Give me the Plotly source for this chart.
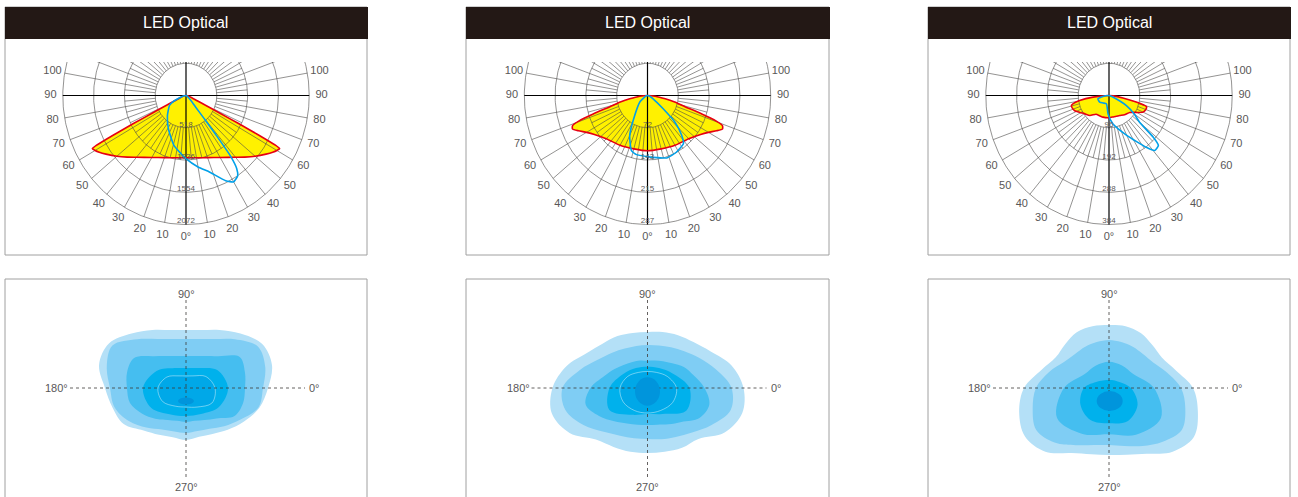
import numpy as np
import plotly.graph_objects as go

W, H = 1298, 497

HEADER = "LED Optical"
PANEL_LEFT = [5, 466, 928]
PANEL_RIGHT = [367, 829, 1290]

# ---------------- polar (photometric) data ----------------
RING_VALUES = [[518, 1036, 1554, 2072], [72, 143, 215, 287], [96, 192, 288, 384]]
ANGLE_TICKS = [0, 10, 20, 30, 40, 50, 60, 70, 80, 90, 100]

# C0-C180 plane (yellow fill, red outline); symmetric halves, degrees from nadir
P1_RED_ANG = [0, 10, 20, 30, 40, 45, 50, 55, 58, 60, 61.5, 62, 62.5, 63, 63.5, 64.5, 66, 70, 80, 90]
P1_RED_CD = [1000, 1015, 1062, 1150, 1295, 1399, 1518, 1642, 1720, 1766, 1792, 1709, 1399, 984, 622, 363, 207, 104, 31, 0]
P2_RED_ANG = [0, 15, 30, 45, 55, 60, 64, 67, 69, 70.5, 72, 74, 77, 80, 85, 90]
P2_RED_CD = [123, 123, 128, 136, 151, 164, 179, 190, 187, 169, 133, 92, 65, 42, 18, 0]
# panel 3 is slightly asymmetric: full sweep, negative = left
P3_RED_ANG = [-90, -84.5, -80.7, -78, -75.7, -71, -67, -61, -55, -45, -36, -25, -16, 0, 11, 20, 29, 40, 52, 60, 65, 70, 74, 75.5, 77, 80, 85, 90]
P3_RED_CD = [0, 50, 93, 113, 121, 120, 116, 104, 94, 84, 69, 67, 67, 66, 65, 66, 68, 75, 82, 101, 117, 122, 122, 110, 87, 44, 14, 0]

# C90-C270 plane (blue), full sweep
P1_BLUE_ANG = [-90, -80, -70, -65, -60, -44, -29, -14, 0, 10, 18, 26, 30, 34, 36, 37.5, 38.5, 39.5, 41, 45, 55, 70, 90]
P1_BLUE_CD = [0, 41, 130, 249, 321, 450, 611, 829, 1015, 1166, 1295, 1523, 1601, 1554, 1450, 1243, 829, 466, 259, 130, 41, 10, 0]
P2_BLUE_ANG = [-90, -75, -60, -51, -34, -25, -17, -11, 0, 5, 18, 28, 38, 42, 47, 51, 61, 75, 90]
P2_BLUE_CD = [0, 4, 9, 23, 53, 98, 128, 134, 136, 138, 146, 143, 136, 119, 88, 47, 15, 4, 0]
P3_BLUE_ANG = [-90, -80, -74, -56, -40, -18, -3, 8, 25, 37, 41, 46, 48, 50, 55, 61, 69, 80, 90]
P3_BLUE_CD = [0, 24, 36, 35, 29, 26, 55, 85, 131, 193, 217, 214, 185, 125, 96, 62, 13, 3, 0]

# ---------------- isolux contour data (radius at equal angle steps, from 0 deg ccw) ----------------
P1_LEVELS = [
    [82, 89, 88, 77, 67, 60, 58, 60, 67, 77, 89, 90, 81, 76, 72, 60, 54, 51, 52, 50.5, 53, 59, 67, 76],
    [77, 82, 83, 69, 56.6, 50.7, 49, 50.7, 56.6, 69, 85, 82, 76, 74, 66, 56, 48, 45, 45, 44.5, 47, 54, 63, 75],
    [59, 61, 62, 45, 37, 33, 32, 33, 37, 45, 60, 61, 59, 58, 51, 43.5, 37, 34, 34, 34, 37, 43, 56, 59],
    [42, 36, 23, 20, 23, 34, 43, 40, 30.5, 28, 30, 38],
    [29, 23, 14, 12, 14, 22, 28, 27, 21, 19, 22, 30],
]
P2_LEVELS = [
    [96, 87, 73, 65, 61, 58, 56, 57, 60, 63, 70, 84, 95, 99, 90, 73, 68, 66, 65, 66, 69, 72, 89, 98],
    [84, 71, 60, 52, 47, 44, 43, 43.5, 45.5, 50, 57, 70, 85, 85, 74, 62, 55, 52, 51, 53, 56.5, 63, 74, 86],
    [57, 48, 42, 35, 31, 28.5, 27.3, 28.5, 30, 33, 38, 45, 57, 64, 56, 47, 41, 38, 37, 38, 42, 48, 60, 64],
    [42, 29, 23, 21.3, 23, 28, 38, 44, 31, 26, 30, 45],
    [29, 23, 18, 16.5, 18, 23, 27.5, 28, 26, 25, 26, 29],
]
P3_LEVELS = [
    [84, 69, 61, 61, 63.5, 64, 63, 64, 64.5, 62, 61.5, 70, 85, 93, 97, 90, 75, 68.5, 67, 69, 76, 90, 98, 92],
    [72, 60, 51, 48, 47.5, 47.5, 48, 47.5, 47.5, 48, 52, 62, 73, 79, 84, 77, 66, 59, 57, 60, 67, 76, 84, 79],
    [45, 28, 26, 26.3, 26, 28, 45, 60, 53, 46.3, 54, 60],
    [22, 12, 9, 8, 9, 13, 25, 33, 37, 35.3, 38, 33],
]
HOT_X = [0, 0, 0.7]
HOT_Y = [-13, -3.5, -13]
HOT_RX = [8, 12.5, 13]
HOT_RY = [3.5, 14.2, 10]
ISO_LABELS = ["0°", "90°", "180°", "270°"]

LEVEL_COLORS = ["#b4e0f7", "#7fcdf4", "#45bef0", "#00b1ec", "#00a8e8"]
HOT_COLOR = "#0095dc"
RED = "#e60012"
YELLOW = "#fff100"
BLUE = "#00a0e9"
GRID = "#4c4948"
TEXT = "#595757"
BORDER = "#a0a0a0"
FONT = "Liberation Sans, Arial, sans-serif"

# ---------------- geometry of the layout (pixels) ----------------
SX, SY = 30.8, 32.25       # pixels per ring step (horizontal / vertical)
CY = 95.5                  # polar centre row
TOP_CLIP = 62
TOP_BOTTOM = 254
BOX_TOP, HEAD_BOTTOM, BOX_BOTTOM = 7, 39, 255
ISO_TOP, ISO_CY = 279, 388

fig = go.Figure()
layout = dict(width=W, height=H, margin=dict(l=0, r=0, t=0, b=0),
              paper_bgcolor="white", plot_bgcolor="rgba(0,0,0,0)", showlegend=False)
shapes, annotations = [], []


def polar_xy(ang, cd, step):
    a = np.radians(np.asarray(ang, float))
    r = np.asarray(cd, float) / step
    return r * np.sin(a), -r * np.cos(a)


def mirror(ang, cd):
    ang = np.asarray(ang, float)
    cd = np.asarray(cd, float)
    return np.concatenate([-ang[::-1], ang[1:]]), np.concatenate([cd[::-1], cd[1:]])


reds = [mirror(P1_RED_ANG, P1_RED_CD), mirror(P2_RED_ANG, P2_RED_CD), (P3_RED_ANG, P3_RED_CD)]
blues = [(P1_BLUE_ANG, P1_BLUE_CD), (P2_BLUE_ANG, P2_BLUE_CD), (P3_BLUE_ANG, P3_BLUE_CD)]
iso = [P1_LEVELS, P2_LEVELS, P3_LEVELS]

for i in range(3):
    x0p, x1p = PANEL_LEFT[i], PANEL_RIGHT[i]
    cx = (x0p + x1p) / 2
    # ---------- top polar panel ----------
    n = i + 1
    xa, ya = ("x" if n == 1 else f"x{n}"), ("y" if n == 1 else f"y{n}")
    layout["xaxis" if n == 1 else f"xaxis{n}"] = dict(
        domain=[(x0p + 1) / W, (x1p - 1) / W], range=[(x0p + 1 - cx) / SX, (x1p - 1 - cx) / SX],
        visible=False, fixedrange=True, anchor=ya)
    layout["yaxis" if n == 1 else f"yaxis{n}"] = dict(
        domain=[1 - TOP_BOTTOM / H, 1 - TOP_CLIP / H], range=[-(TOP_BOTTOM - CY) / SY, (CY - TOP_CLIP) / SY],
        visible=False, fixedrange=True, anchor=xa)
    step = RING_VALUES[i][-1] / 4.0

    rang, rcd = reds[i]
    rx, ry = polar_xy(rang, rcd, step)
    fig.add_trace(go.Scatter(x=rx, y=ry, xaxis=xa, yaxis=ya, mode="lines", fill="toself",
                             fillcolor=YELLOW, line=dict(width=0, shape="spline", smoothing=0.5),
                             hoverinfo="skip"))
    # grid rings
    t = np.linspace(0, 2 * np.pi, 361)
    gx, gy = [], []
    for k in range(1, 5):
        gx += list(k * np.cos(t)) + [None]
        gy += list(k * np.sin(t)) + [None]
    for a in range(0, 360, 5):
        if a % 90 == 0:
            continue
        r_out = 4 if a % 10 == 0 else 2
        ar = np.radians(a)
        gx += [np.sin(ar), r_out * np.sin(ar), None]
        gy += [-np.cos(ar), -r_out * np.cos(ar), None]
    fig.add_trace(go.Scatter(x=gx, y=gy, xaxis=xa, yaxis=ya, mode="lines",
                             line=dict(color=GRID, width=0.6), hoverinfo="skip"))
    # main axes
    fig.add_trace(go.Scatter(x=[-4, 4, None, 0, 0], y=[0, 0, None, 2, -4], xaxis=xa, yaxis=ya,
                             mode="lines", line=dict(color="#000000", width=1.2), hoverinfo="skip"))
    fig.add_trace(go.Scatter(x=rx, y=ry, xaxis=xa, yaxis=ya, mode="lines",
                             line=dict(color=RED, width=1.6, shape="spline", smoothing=0.5), hoverinfo="skip"))
    bang, bcd = blues[i]
    bx, by = polar_xy(bang, bcd, step)
    fig.add_trace(go.Scatter(x=bx, y=by, xaxis=xa, yaxis=ya, mode="lines",
                             line=dict(color=BLUE, width=1.6, shape="spline", smoothing=0.5), hoverinfo="skip"))
    # ring value labels
    fig.add_trace(go.Scatter(x=[0] * 4, y=[-(k + 1) + 0.1 for k in range(4)], xaxis=xa, yaxis=ya,
                             mode="text", text=[str(v) for v in RING_VALUES[i]],
                             textfont=dict(size=8, color=TEXT, family=FONT), hoverinfo="skip", cliponaxis=False))
    # angle labels
    la, lt = [], []
    for a in ANGLE_TICKS:
        if a == 0:
            la.append(0); lt.append("0°")
        else:
            la += [-a, a]; lt += [str(a), str(a)]
    lr = 4.4
    lx = [lr * np.sin(np.radians(a)) for a in la]
    ly = [-lr * np.cos(np.radians(a)) for a in la]
    fig.add_trace(go.Scatter(x=lx, y=ly, xaxis=xa, yaxis=ya, mode="text", text=lt,
                             textfont=dict(size=11, color=TEXT, family=FONT), hoverinfo="skip", cliponaxis=False))

    # box + header
    shapes.append(dict(type="rect", xref="paper", yref="paper", x0=x0p / W, x1=x1p / W,
                       y0=1 - BOX_BOTTOM / H, y1=1 - BOX_TOP / H, line=dict(color=BORDER, width=1),
                       fillcolor="rgba(0,0,0,0)", layer="above"))
    shapes.append(dict(type="rect", xref="paper", yref="paper", x0=x0p / W, x1=(x1p + 1) / W,
                       y0=1 - HEAD_BOTTOM / H, y1=1 - BOX_TOP / H, line=dict(width=0),
                       fillcolor="#231815", layer="above"))
    annotations.append(dict(xref="paper", yref="paper", x=cx / W, y=1 - 23 / H, text=HEADER,
                            showarrow=False, font=dict(size=16, color="white", family=FONT),
                            xanchor="center", yanchor="middle"))

    # ---------- bottom isolux panel ----------
    n2 = i + 4
    xa2, ya2 = f"x{n2}", f"y{n2}"
    layout[f"xaxis{n2}"] = dict(domain=[(x0p + 1) / W, (x1p - 1) / W], range=[x0p + 1 - cx, x1p - 1 - cx],
                                visible=False, fixedrange=True, anchor=ya2)
    layout[f"yaxis{n2}"] = dict(domain=[0, 1 - (ISO_TOP + 1) / H], range=[-(H - ISO_CY), ISO_CY - ISO_TOP - 1],
                                visible=False, fixedrange=True, anchor=xa2)
    for li, radii in enumerate(iso[i]):
        rr = np.asarray(radii, float)
        ang = np.radians(np.arange(len(rr)) * 360.0 / len(rr))
        xs = np.append(rr * np.cos(ang), rr[0] * np.cos(ang[0]))
        ys = np.append(rr * np.sin(ang), rr[0] * np.sin(ang[0]))
        outline = (li == 4)
        fig.add_trace(go.Scatter(x=xs, y=ys, xaxis=xa2, yaxis=ya2, mode="lines", fill="toself",
                                 fillcolor=LEVEL_COLORS[li],
                                 line=dict(color="rgba(255,255,255,0.6)" if outline else LEVEL_COLORS[li],
                                           width=0.7 if outline else 0, shape="spline", smoothing=1),
                                 hoverinfo="skip"))
    shapes.append(dict(type="circle", xref=xa2, yref=ya2,
                       x0=HOT_X[i] - HOT_RX[i], x1=HOT_X[i] + HOT_RX[i],
                       y0=HOT_Y[i] - HOT_RY[i], y1=HOT_Y[i] + HOT_RY[i],
                       fillcolor=HOT_COLOR, line=dict(width=0), layer="above"))
    fig.add_trace(go.Scatter(x=[-116, 119, None, 0, 0], y=[0, 0, None, 88, -89], xaxis=xa2, yaxis=ya2,
                             mode="lines", line=dict(color="#3e3a39", width=0.8, dash="dot"), hoverinfo="skip"))
    for txt, x, y, xan in [(ISO_LABELS[1], 0, 94, "center"), (ISO_LABELS[3], 0, -99, "center"),
                           (ISO_LABELS[2], -116, 0, "right"), (ISO_LABELS[0], 121, 0, "left")]:
        annotations.append(dict(xref=xa2, yref=ya2, x=x, y=y, text=txt, showarrow=False,
                                xanchor=xan, yanchor="middle",
                                font=dict(size=11, color=TEXT, family=FONT)))
    shapes.append(dict(type="rect", xref="paper", yref="paper", x0=x0p / W, x1=x1p / W,
                       y0=-0.1, y1=1 - ISO_TOP / H, line=dict(color=BORDER, width=1),
                       fillcolor="rgba(0,0,0,0)", layer="above"))

layout["shapes"] = shapes
layout["annotations"] = annotations
fig.update_layout(**layout)
fig.write_html("out.html", config={"displayModeBar": False},
               post_script="document.body.style.margin='0';document.body.style.overflow='hidden';")
